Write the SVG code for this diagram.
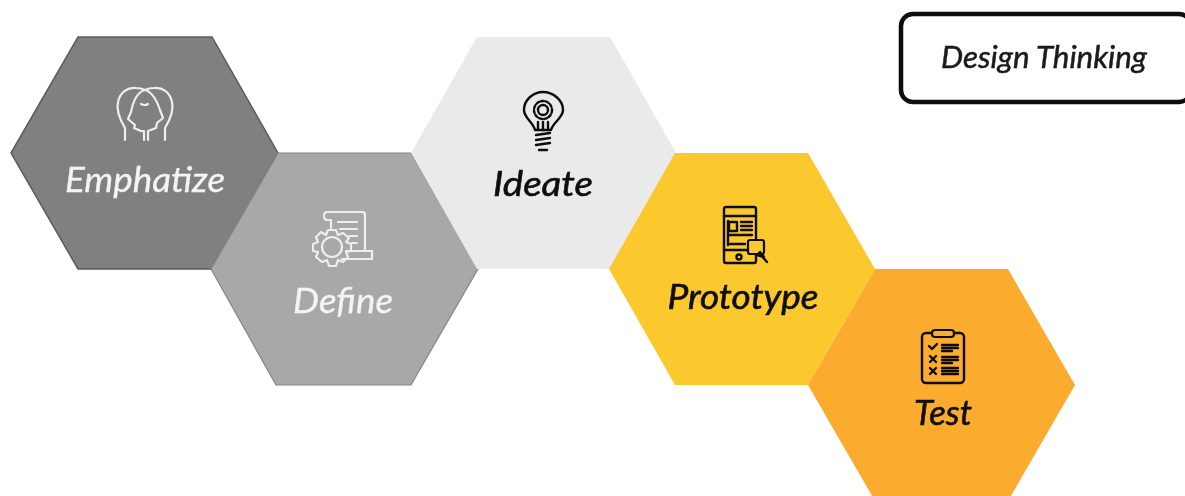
<svg xmlns="http://www.w3.org/2000/svg" width="1185" height="496" viewBox="0 0 1185 496">
<style>
.lbl{font-family:"Lato","Liberation Sans",sans-serif;font-style:italic;font-weight:400;font-size:35px;text-anchor:middle}
.w{fill:#f4f4f4;stroke:#f4f4f4;stroke-width:.3}.k{fill:#111111;stroke:#111111;stroke-width:.6}
.iw{fill:none;stroke:#eeeeee;stroke-width:2.2;stroke-linecap:round;stroke-linejoin:round}
.ik{fill:none;stroke:#111111;stroke-width:2.4;stroke-linecap:round;stroke-linejoin:round}
</style>
<defs><filter id="soft" x="-5%" y="-5%" width="110%" height="110%"><feGaussianBlur stdDeviation="0.65"/></filter></defs>
<rect width="1185" height="496" fill="#ffffff"/>
<g filter="url(#soft)">
<g id="emphatize">
<polygon points="11,153 78,37 212,37 278,153 212,269 78,269" fill="#808080" stroke="#5c5c5c" stroke-width="1.5"/>
<path class="iw" d="M125,140V128C119,118 116,110 118,102C120,92 128,87 136,88C140,88 143,89 145,90C147,89 150,88 154,88C162,87 170,92 172,102C174,110 171,118 165,128V140"/>
<path class="iw" d="M145,90C137,92 133,102 131,112L128,119L135,125L134,128L141,131H144V140M145,90C152,92 157,101 160,110L163,118L157,123L156,128L148,131V140"/>
<path class="iw" d="M141,104q4,2 7,0" stroke-width="1.5"/>
<text class="lbl w" x="145" y="192" textLength="160" lengthAdjust="spacingAndGlyphs">Emphatize</text>
</g>
<g id="define">
<polygon points="211,269 278,153 411,153 478,269 411,385 276,385" fill="#a8a8a8" stroke="#858585" stroke-width="1.2"/>
<path class="iw" d="M327,212H362C364,212 365,213 365,215V251M327,212C323,212 323,220 327,220H331V228M338,222H357M340,229H357M349,236H357M352,243H357"/>
<path class="iw" d="M346,251H372V259H342"/>
<circle class="iw" cx="332" cy="247" r="10"/>
<path class="iw" d="M328,230L336,230L338,235L343,233L349,238L346,242L351,244V251L346,252L348,257L343,262L338,260L336,266H329L327,260L322,262L316,257L318,252L313,251V244L318,242L316,237L321,232L326,235Z"/>
<text class="lbl w" x="343" y="313" textLength="100" lengthAdjust="spacingAndGlyphs">Define</text>
</g>
<g id="ideate">
<polygon points="411,153 477,37 610,37 676,153 610,269 477,269" fill="#eaeaea"/>
<path class="ik" stroke-width="3" d="M535,130C533,122 524,118 524,110C524,100 533,92 543,92C553,92 563,100 563,110C563,118 553,122 551,130Z"/>
<path class="ik" stroke-width="2.6" d="M536,135L550,133M536,140L550,138M536,145L550,143M539,150H547M538,130V122M543,130V122M548,130V122"/>
<circle class="ik" cx="543" cy="110" r="5" stroke="#333333" stroke-width="1.8"/>
<circle class="ik" cx="543" cy="110" r="9" stroke="#333333" stroke-width="2.4" stroke-dasharray="3 2"/>
<text class="lbl k" x="543" y="196" textLength="100" lengthAdjust="spacingAndGlyphs">Ideate</text>
</g>
<g id="prototype">
<polygon points="609,269 675,153 808,153 875,269 808,385 675,385" fill="#fbc82e"/>
<rect class="ik" x="724" y="207" width="32" height="56" rx="2"/>
<path class="ik" d="M724,216H756M724,250H748M728,221V245"/>
<rect class="ik" x="729" y="222" width="8" height="9" stroke-width="1.8"/>
<path class="ik" stroke-width="1.6" d="M741,222H752M741,226H752M741,230H752M730,235H752M730,244H745"/>
<circle class="ik" cx="739" cy="257" r="2.5" stroke-width="1.7"/>
<rect x="748" y="240" width="16" height="14" rx="2" fill="#fbc82e" stroke="#111111" stroke-width="2.2"/>
<path class="ik" d="M760,254L767,262M757,255l3,-3l4,5z"/>
<text class="lbl k" x="743" y="309" textLength="151" lengthAdjust="spacingAndGlyphs">Prototype</text>
</g>
<g id="test">
<polygon points="808,385 875,269 1008,269 1075,385 1008,501 875,501" fill="#fbab2e"/>
<rect class="ik" x="922" y="333" width="42" height="50" rx="4" stroke-width="2.8"/>
<rect x="932" y="330" width="22" height="7" rx="3" fill="#fbab2e" stroke="#111111" stroke-width="2.2"/>
<path class="ik" stroke-width="2" d="M929,346l3,3l5,-5M930,356l6,6M936,356l-6,6M930,368l6,6M936,368l-6,6"/>
<path class="ik" stroke-width="2" d="M942,345H958M942,348H958M942,351H952M942,357H958M942,360H958M942,363H952M942,368H958M942,371H958M942,374H958"/>
<text class="lbl k" x="943" y="425" textLength="58" lengthAdjust="spacingAndGlyphs">Test</text>
</g>
<g id="design-thinking">
<rect x="901" y="14" width="290" height="88" rx="12" fill="#ffffff" stroke="#0d0d0d" stroke-width="4.5"/>
<text x="1044" y="68" font-family="Lato,'Liberation Sans',sans-serif" font-style="italic" font-size="31" text-anchor="middle" fill="#1a1a1a" stroke="#1a1a1a" stroke-width=".5" textLength="206" lengthAdjust="spacingAndGlyphs">Design Thinking</text>
</g>
</g>
<g id="connectors"></g>
</svg>
